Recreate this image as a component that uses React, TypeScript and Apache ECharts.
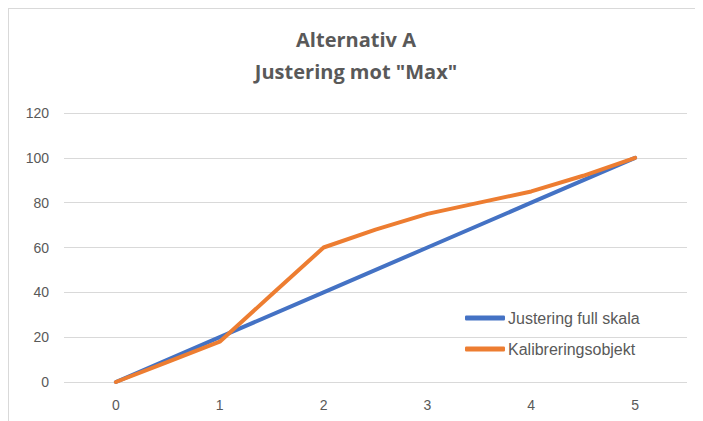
import React, { useEffect, useRef } from "react";
import * as echarts from "echarts";

const titleLines = ["Alternativ A", 'Justering mot "Max"'];
const seriesNames = ["Justering full skala", "Kalibreringsobjekt"];
const blueX = [0, 1, 2, 3, 4, 5];
const blueY = [0, 20, 40, 60, 80, 100];
const orangeX = [0, 0.5, 1, 1.5, 2, 2.5, 3, 3.5, 4, 4.5, 5];
const orangeY = [0, 9, 18, 39, 60, 68, 75, 80, 85, 92, 100];
const yTicks = [0, 20, 40, 60, 80, 100, 120];

export default function App() {
  const ref = useRef<HTMLDivElement>(null);
  useEffect(() => {
    if (!ref.current) return;
    const chart = echarts.init(ref.current, null, { renderer: "svg" });
    const font = "'Liberation Sans', Arial, sans-serif";
    chart.setOption({
      animation: false,
      title: {
        text: titleLines.join("\n"),
        left: "center",
        top: 9,
        textStyle: {
          fontFamily: "'Open Sans', sans-serif",
          fontSize: 20,
          fontWeight: "bold",
          color: "#595959",
          lineHeight: 32,
        },
      },
      legend: {
        orient: "vertical",
        left: 451,
        top: 296,
        itemWidth: 40,
        itemHeight: 5,
        itemGap: 15,
        icon: "roundRect",
        textStyle: { fontFamily: font, fontSize: 16, color: "#595959", padding: [0, 0, 0, -2] },
        data: seriesNames,
      },
      grid: { left: 55, right: 16, top: 104, bottom: 39, containLabel: false },
      xAxis: {
        type: "value",
        min: -0.5,
        max: 5.5,
        interval: 0.5,
        splitLine: { show: false },
        axisLine: { show: false },
        axisTick: { show: false },
        axisLabel: {
          margin: 16,
          fontFamily: font,
          fontSize: 14,
          color: "#595959",
          formatter: (v: number) => (Number.isInteger(v) && v >= 0 && v <= 5 ? String(v) : ""),
        },
      },
      yAxis: {
        type: "value",
        min: yTicks[0],
        max: yTicks[yTicks.length - 1],
        interval: 20,
        axisLine: { show: false },
        axisTick: { show: false },
        splitLine: { lineStyle: { color: "#d9d9d9", width: 1 } },
        axisLabel: { margin: 15, fontFamily: font, fontSize: 14, color: "#595959" },
      },
      series: [
        {
          name: seriesNames[0],
          type: "line",
          data: blueX.map((x, i) => [x, blueY[i]]),
          symbol: "none",
          lineStyle: { color: "#4472C4", width: 4, cap: "round" },
          itemStyle: { color: "#4472C4" },
        },
        {
          name: seriesNames[1],
          type: "line",
          data: orangeX.map((x, i) => [x, orangeY[i]]),
          symbol: "none",
          lineStyle: { color: "#ED7D31", width: 4, cap: "round" },
          itemStyle: { color: "#ED7D31" },
        },
      ],
    });
    return () => chart.dispose();
  }, []);
  return (
    <div
      style={{
        width: 694,
        height: 412,
        borderTop: "1px solid #d9d9d9",
        borderLeft: "1px solid #d9d9d9",
        background: "#fff",
      }}
    >
      <div ref={ref} style={{ width: 694, height: 412 }} />
    </div>
  );
}
